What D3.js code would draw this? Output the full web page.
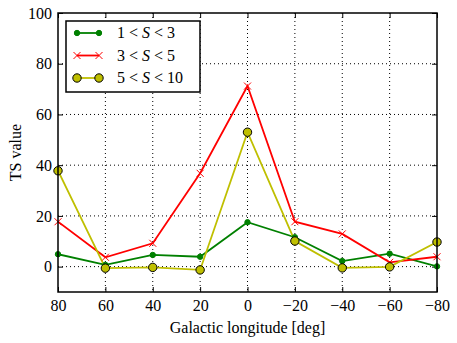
<!DOCTYPE html>
<html>
<head>
<meta charset="utf-8">
<script src="https://d3js.org/d3.v7.min.js"></script>
<style>
  body { margin: 0; background: #fff; }
  text { font-family: "Liberation Serif", "DejaVu Serif", serif; }
</style>
</head>
<body>
<svg width="457" height="343"></svg>
<script>
// the data
var longitudes = [80, 60, 40, 20, 0, -20, -40, -60, -80];
var ts1 = [4.9, 0.7, 4.6, 3.9, 17.5, 11.6, 2.2, 5.1, 0.1];
var ts2 = [17.7, 3.7, 9.2, 36.8, 71.2, 17.7, 12.9, 1.7, 3.9];
var ts3 = [37.8, -0.6, -0.3, -1.3, 53.0, 10.1, -0.5, -0.1, 9.7];
var xTicks = [80, 60, 40, 20, 0, -20, -40, -60, -80];
var yTicks = [0, 20, 40, 60, 80, 100];
var legendLabels = [["1 < ", "S", " < 3"], ["3 < ", "S", " < 5"], ["5 < ", "S", " < 10"]];

var svg = d3.select("svg"),
    margin = {top: 13, right: 20, bottom: 51, left: 58},
    width = 457 - margin.left - margin.right,
    height = 343 - margin.top - margin.bottom;

var g = svg.append("g").attr("transform", "translate(" + margin.left + "," + margin.top + ")");

var x = d3.scaleLinear().domain([80, -80]).range([0, width]);
var y = d3.scaleLinear().domain([-10, 100]).range([height, 0]);

// grid
g.append("g").selectAll("line").data(xTicks.slice(1, -1)).enter().append("line")
    .attr("x1", function(d) { return x(d); }).attr("x2", function(d) { return x(d); })
    .attr("y1", 0).attr("y2", height)
    .attr("stroke", "#000").attr("stroke-width", 1).attr("stroke-dasharray", "1,3");
g.append("g").selectAll("line").data(yTicks.slice(0, -1)).enter().append("line")
    .attr("y1", function(d) { return y(d); }).attr("y2", function(d) { return y(d); })
    .attr("x1", 0).attr("x2", width)
    .attr("stroke", "#000").attr("stroke-width", 1).attr("stroke-dasharray", "1,3");

// axes with inward ticks
var fmt = function(d) { return d < 0 ? "\u2212" + Math.abs(d) : d; };
var xb = g.append("g").attr("transform", "translate(0," + height + ")")
    .call(d3.axisBottom(x).tickValues(xTicks).tickSize(-5).tickPadding(8).tickFormat(fmt));
var xt = g.append("g").call(d3.axisTop(x).tickValues(xTicks).tickSize(-5).tickFormat(""));
var yl = g.append("g")
    .call(d3.axisLeft(y).tickValues(yTicks).tickSize(-5).tickPadding(6).tickFormat(fmt));
var yr = g.append("g").attr("transform", "translate(" + width + ",0)")
    .call(d3.axisRight(y).tickValues(yTicks).tickSize(-5).tickFormat(""));
[xb, xt, yl, yr].forEach(function(a) {
  a.select(".domain").remove();
  a.selectAll("line").attr("stroke", "#000").attr("stroke-width", 1);
  a.selectAll("text").attr("font-size", 16).attr("fill", "#000")
    .style("font-family", "'Liberation Serif', serif");
});

var series = [
  {vals: ts1, color: "#008000", marker: "dot"},
  {vals: ts2, color: "#ff0000", marker: "x"},
  {vals: ts3, color: "#bfbf00", marker: "circle"}
];

var line = d3.line()
    .x(function(d, i) { return x(longitudes[i]); })
    .y(function(d) { return y(d); });

var clip = svg.append("clipPath").attr("id", "clip").append("rect")
    .attr("width", width).attr("height", height);
var plot = g.append("g").attr("clip-path", "url(#clip)");

function drawMarker(sel, s, px, py) {
  if (s.marker == "x") {
    var r = 3.5;
    sel.append("path")
      .attr("d", "M" + (px - r) + "," + (py - r) + "L" + (px + r) + "," + (py + r) +
                 "M" + (px - r) + "," + (py + r) + "L" + (px + r) + "," + (py - r))
      .attr("stroke", s.color).attr("stroke-width", 1).attr("fill", "none");
  } else if (s.marker == "dot") {
    sel.append("circle").attr("cx", px).attr("cy", py).attr("r", 2.7)
      .attr("fill", s.color).attr("stroke", s.color);
  } else {
    sel.append("circle").attr("cx", px).attr("cy", py).attr("r", 4.2)
      .attr("fill", s.color).attr("stroke", "#000").attr("stroke-width", 1);
  }
}

series.forEach(function(s) {
  plot.append("path").datum(s.vals).attr("d", line)
    .attr("fill", "none").attr("stroke", s.color).attr("stroke-width", 1.8);
});
series.forEach(function(s) {
  var mg = g.append("g");
  s.vals.forEach(function(v, i) { drawMarker(mg, s, x(longitudes[i]), y(v)); });
});

// frame
g.append("rect").attr("width", width).attr("height", height)
  .attr("fill", "none").attr("stroke", "#000").attr("stroke-width", 1.5);

// legend
var leg = g.append("g").attr("transform", "translate(8,8)");
leg.append("rect").attr("width", 134).attr("height", 71)
  .attr("fill", "#fff").attr("stroke", "#000").attr("stroke-width", 1.5);
series.forEach(function(s, i) {
  var ly = 12 + i * 22.5;
  leg.append("line").attr("x1", 11).attr("x2", 33).attr("y1", ly).attr("y2", ly)
    .attr("stroke", s.color).attr("stroke-width", 1.8);
  drawMarker(leg, s, 11, ly);
  drawMarker(leg, s, 33, ly);
  var t = leg.append("text").attr("x", 51).attr("y", ly + 5).attr("font-size", 16);
  t.append("tspan").text(legendLabels[i][0]);
  t.append("tspan").attr("font-style", "italic").text(legendLabels[i][1]);
  t.append("tspan").text(legendLabels[i][2]);
});

// axis labels
svg.append("text").attr("x", margin.left + width / 2).attr("y", 333)
  .attr("text-anchor", "middle").attr("font-size", 16).text("Galactic longitude [deg]");
svg.append("text").attr("transform", "translate(21," + (margin.top + height / 2) + ") rotate(-90)")
  .attr("text-anchor", "middle").attr("font-size", 16).text("TS value");
</script>
</body>
</html>
